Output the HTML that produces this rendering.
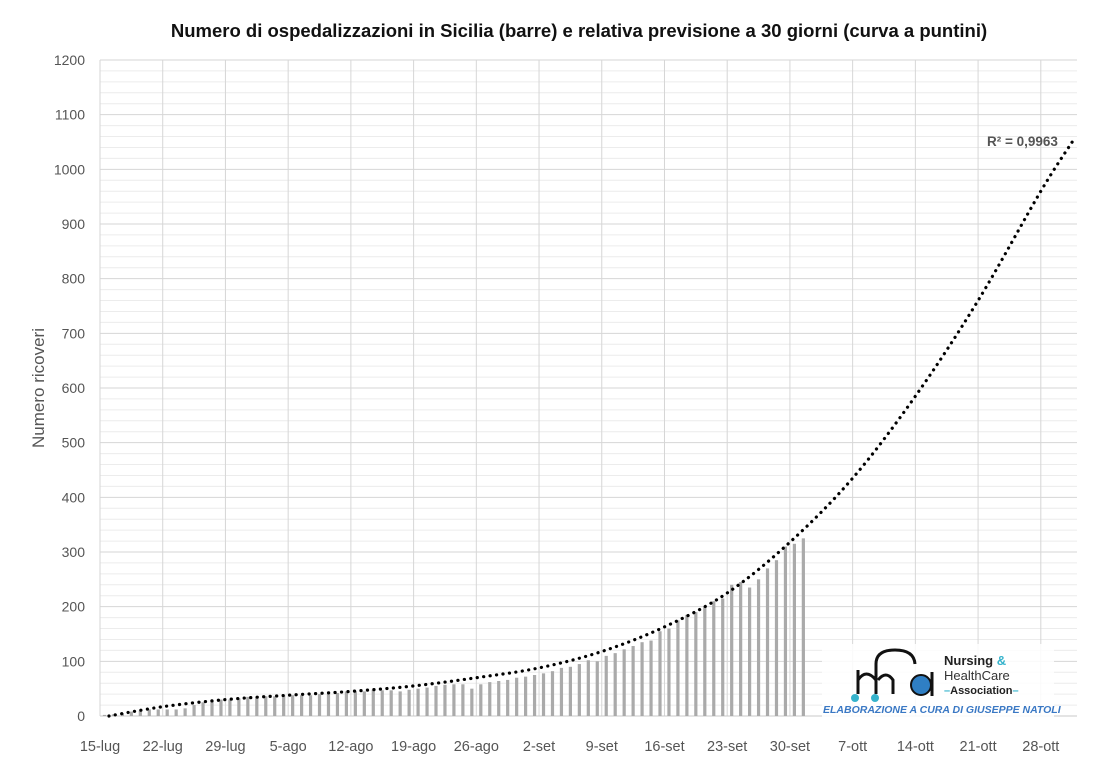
<!DOCTYPE html>
<html><head><meta charset="utf-8"><style>
body{margin:0;background:#fff;font-family:"Liberation Sans",sans-serif}
svg text{font-family:"Liberation Sans",sans-serif}
</style></head><body>
<svg id="chart" width="1100" height="771" viewBox="0 0 1100 771" xmlns="http://www.w3.org/2000/svg">
<text x="579" y="37" text-anchor="middle" font-size="18.5" font-weight="bold" fill="#111">Numero di ospedalizzazioni in Sicilia (barre) e relativa previsione a 30 giorni (curva a puntini)</text>
<text transform="translate(44,388) rotate(-90)" text-anchor="middle" font-size="17" fill="#555">Numero ricoveri</text>
<g id="grid"></g><g id="bars"></g><g id="curve"></g><g id="ticks"></g>
<text x="987" y="146" font-size="13.5" font-weight="bold" fill="#555">R² = 0,9963</text>
<g>
<rect x="822" y="644" width="232" height="74" fill="#fff" opacity="0.85"/>
<path d="M858 694 V670 M858 680 Q866 668 876 680 V694 M876 690 V664 Q876 650 895 650 Q914 650 915 664" fill="none" stroke="#111" stroke-width="3"/>
<path d="M878 680 Q886 670 893 680 V694" fill="none" stroke="#111" stroke-width="3"/>
<circle cx="921" cy="685" r="10" fill="#2f7fc4" stroke="#111" stroke-width="2"/>
<line x1="932" y1="672" x2="932" y2="696" stroke="#111" stroke-width="3"/>
<circle cx="855" cy="698" r="4" fill="#36b3cc"/><circle cx="875" cy="698" r="4" fill="#36b3cc"/>
<text x="944" y="665" font-size="13" font-weight="bold" fill="#222">Nursing <tspan fill="#36b3cc">&amp;</tspan></text>
<text x="944" y="680" font-size="13" fill="#333">HealthCare</text>
<text x="944" y="694" font-size="11" font-weight="bold" fill="#222"><tspan fill="#36b3cc">–</tspan>Association<tspan fill="#36b3cc">–</tspan></text>
<text x="823" y="713" font-size="10.5" font-weight="bold" font-style="italic" fill="#3a78c4">ELABORAZIONE A CURA DI GIUSEPPE NATOLI</text>
</g>
</svg>
<script>
const dateLabels=["15-lug","22-lug","29-lug","5-ago","12-ago","19-ago","26-ago","2-set","9-set","16-set","23-set","30-set","7-ott","14-ott","21-ott","28-ott"];
const yTicks=[0,100,200,300,400,500,600,700,800,900,1000,1100,1200];
const barValues=[2,3,5,8,10,12,12, 12,12,14,20,25,28,30, 30,32,35,35,36,36,38, 38,38,38,40,40,42,45, 45,45,48,47,47,45,48, 50,52,55,57,58,58,50, 58,62,64,66,70,72,75, 78,82,88,90,95,102,100, 110,115,122,128,135,138,155, 160,175,185,190,200,210,215, 240,245,235,250,270,285,310, 315,325];
const curveDays=[1,7,14,21,28,35,42,49,56,63,70,77,84,91,98,105,108.5];
const curveValues=[0,17,30,38,45,55,70,88,118,163,225,318,435,585,760,960,1050];
const X0=100,DX=8.96,Y0=716,YS=656/1200,XR=1077;
const x=d=>X0+d*DX, y=v=>Y0-v*YS;
const NS="http://www.w3.org/2000/svg";
function mk(t,a,p){const e=document.createElementNS(NS,t);for(const k in a)e.setAttribute(k,a[k]);p.appendChild(e);return e;}
const grid=document.getElementById('grid'),ticks=document.getElementById('ticks');
for(let v=0;v<=1200;v+=20){const l=mk('line',{x1:X0,x2:XR,y1:y(v),y2:y(v),stroke:v%100?'#ececec':'#d6d6d6','stroke-width':1},grid);

}
dateLabels.forEach((s,i)=>{const l=mk('line',{x1:x(i*7),x2:x(i*7),y1:y(1200),y2:Y0,stroke:'#d6d6d6','stroke-width':1},grid);


const t=mk('text',{x:x(i*7),y:751,'text-anchor':'middle','font-size':14.5,fill:'#555'},ticks);t.textContent=s;

});
yTicks.forEach(v=>{const t=mk('text',{x:85,y:y(v)+5,'text-anchor':'end','font-size':14,fill:'#555'},ticks);t.textContent=v;

});
mk('line',{x1:X0,x2:XR,y1:Y0,y2:Y0,stroke:'#c8c8c8'},grid);
const bars=document.getElementById('bars');
barValues.forEach((v,i)=>{const r=mk('rect',{x:x(i+0.5)-1.6,y:y(v),width:3.2,height:v*YS,fill:'#aaaaaa'},bars);

});
const P=curveDays.map((d,i)=>[x(d),y(curveValues[i])]);
let dstr=`M${P[0][0]},${P[0][1]}`;
for(let i=0;i<P.length-1;i++){const p0=P[Math.max(i-1,0)],p1=P[i],p2=P[i+1],p3=P[Math.min(i+2,P.length-1)];
dstr+=` C${p1[0]+(p2[0]-p0[0])/6},${p1[1]+(p2[1]-p0[1])/6} ${p2[0]-(p3[0]-p1[0])/6},${p2[1]-(p3[1]-p1[1])/6} ${p2[0]},${p2[1]}`;}
const c=mk('path',{d:dstr,fill:'none',stroke:'#000','stroke-width':3.2,'stroke-dasharray':'0.1 6.4','stroke-linecap':'round'},document.getElementById('curve'));


</script>
</body></html>
